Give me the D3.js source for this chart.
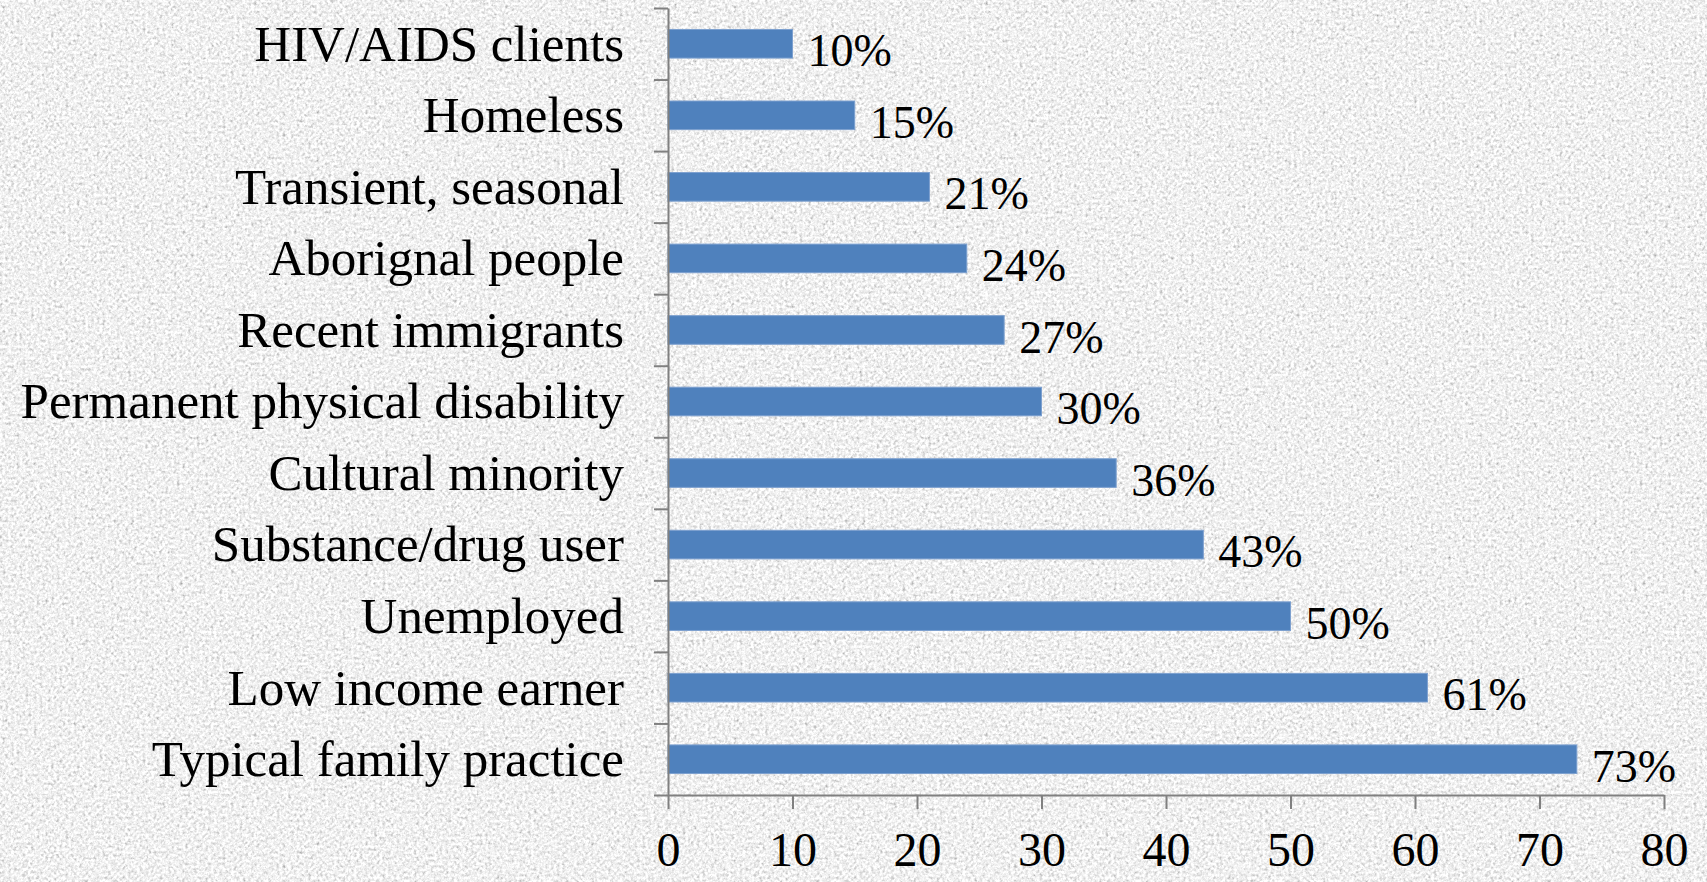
<!DOCTYPE html>
<html>
<head>
<meta charset="utf-8">
<script src="https://cdn.jsdelivr.net/npm/d3@7"></script>
<style>
  html, body { margin: 0; padding: 0; background: #dcdcdc; overflow: hidden; }
  svg { display: block; }
</style>
</head>
<body>
<svg id="chart" width="1707" height="882"></svg>
<script>
// ---- data ----
const categories = [
  "HIV/AIDS clients",
  "Homeless",
  "Transient, seasonal",
  "Aborignal people",
  "Recent immigrants",
  "Permanent physical disability",
  "Cultural minority",
  "Substance/drug user",
  "Unemployed",
  "Low income earner",
  "Typical family practice"
];
const values = [10, 15, 21, 24, 27, 30, 36, 43, 50, 61, 73];
const xTicks = [0, 10, 20, 30, 40, 50, 60, 70, 80];

// ---- layout ----
const W = 1707, H = 882;
const plot = { left: 668, right: 1664, top: 8, bottom: 795 };
const fontFamily = "'Liberation Serif', 'DejaVu Serif', serif";

const svg = d3.select("#chart");

// background texture
const defs = svg.append("defs");
const f = defs.append("filter").attr("id", "tex")
  .attr("x", 0).attr("y", 0).attr("width", "100%").attr("height", "100%");
f.append("feTurbulence").attr("type", "fractalNoise")
  .attr("baseFrequency", "0.35").attr("numOctaves", 4).attr("seed", 7).attr("result", "n");
f.append("feColorMatrix").attr("in", "n").attr("type", "matrix")
  .attr("values", "0.33 0.33 0.33 0 0  0.33 0.33 0.33 0 0  0.33 0.33 0.33 0 0  0 0 0 0 1")
  .attr("result", "g");
const ct = f.append("feComponentTransfer").attr("in", "g");
["R", "G", "B"].forEach(c => ct.append("feFunc" + c).attr("type", "linear").attr("slope", 1.6).attr("intercept", 0.08));
ct.append("feFuncA").attr("type", "linear").attr("slope", 0).attr("intercept", 1);

svg.append("rect").attr("width", W).attr("height", H).attr("fill", "#dcdcdc");
svg.append("rect").attr("width", W).attr("height", H).attr("filter", "url(#tex)");

// scales
const x = d3.scaleLinear().domain([0, 80]).range([plot.left, plot.right]);
const y = d3.scaleBand().domain(categories).range([plot.top, plot.bottom])
  .paddingInner(0.6).paddingOuter(0.3);
const yIdx = d3.scaleLinear().domain([0, categories.length]).range([plot.top, plot.bottom]);

const axisColor = "#808080";

// bars
svg.append("g").selectAll("rect").data(values).join("rect")
  .attr("x", x(0))
  .attr("y", (d, i) => y(categories[i]))
  .attr("width", d => x(d) - x(0))
  .attr("height", y.bandwidth())
  .attr("fill", "#4f81bd")
  .attr("stroke", "#7da0cf")
  .attr("stroke-width", 1);

// y axis (ticks at category boundaries)
const yAxisG = svg.append("g").attr("transform", `translate(${plot.left},0)`)
  .call(d3.axisLeft(yIdx).tickValues(d3.range(0, categories.length + 1)).tickFormat("").tickSize(14).tickSizeOuter(0));
yAxisG.selectAll("path, line").attr("stroke", axisColor).attr("stroke-width", 2);

// x axis
const xAxisG = svg.append("g").attr("transform", `translate(0,${plot.bottom})`)
  .call(d3.axisBottom(x).tickValues(xTicks).tickFormat(d3.format("d")).tickSize(14).tickSizeOuter(0).tickPadding(23));
xAxisG.selectAll("path, line").attr("stroke", axisColor).attr("stroke-width", 2);
xAxisG.selectAll("text")
  .attr("fill", "#000")
  .style("font-family", fontFamily)
  .style("font-size", "48px");

// category labels
svg.append("g").selectAll("text").data(categories).join("text")
  .attr("x", 624)
  .attr("y", d => y(d) + y.bandwidth() / 2)
  .attr("dy", "0.33em")
  .attr("text-anchor", "end")
  .style("font-family", fontFamily)
  .style("font-size", "51px")
  .attr("fill", "#000")
  .text(d => d);

// value labels
svg.append("g").selectAll("text").data(values).join("text")
  .attr("x", d => x(d) + 15)
  .attr("y", (d, i) => y(categories[i]) + y.bandwidth() / 2 + 6)
  .attr("dy", "0.36em")
  .style("font-family", fontFamily)
  .style("font-size", "46px")
  .attr("fill", "#000")
  .text(d => d + "%");
</script>
</body>
</html>
